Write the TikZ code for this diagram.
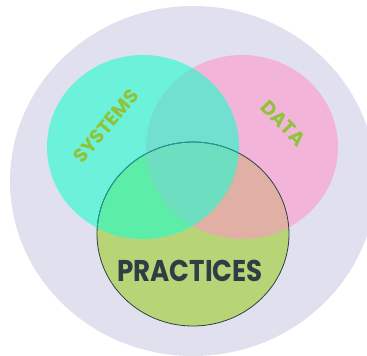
\documentclass[tikz,border=0pt]{standalone}
\usepackage{fontspec}
\newfontfamily\vennfont{Poppins}
\definecolor{lavender}{HTML}{E1E0EF}
\definecolor{sysfill}{HTML}{6CF2DA}
\definecolor{datfill}{HTML}{F2B5D9}
\definecolor{prafill}{HTML}{B7D477}
\definecolor{sdfill}{HTML}{72E0D0}
\definecolor{spfill}{HTML}{5CEEA8}
\definecolor{dpfill}{HTML}{E0B0A4}
\definecolor{sdpfill}{HTML}{6EDEC0}
\definecolor{labelgreen}{HTML}{8FC43A}
\definecolor{labeldark}{HTML}{2F3D45}
\tikzset{
  sys/.style={insert path={(143,147) ellipse[x radius=96,y radius=92]}},
  dat/.style={insert path={(242,147) ellipse[x radius=96,y radius=92]}},
  pra/.style={insert path={(193,234) ellipse[x radius=96,y radius=92]}},
  setlabel/.style={font=\vennfont\bfseries\fontsize{19.5}{20}\selectfont,text=labelgreen,inner sep=0pt}
}
\begin{document}
\begin{tikzpicture}[x=1pt,y=-1pt]
  \useasboundingbox (0,0) rectangle (367,356);
  %\draw[help lines,step=20] (0,0) grid (367,356);
  \begin{scope}
    \clip (0,0) rectangle (367,356);
    \fill[lavender] (193,181) ellipse[x radius=183,y radius=175];
  \end{scope}
  % the three sets
  \fill[datfill,dat];
  \fill[prafill,pra];
  \fill[sysfill,sys];
  % overlaps
  \begin{scope}\clip[sys]; \fill[sdfill,dat]; \end{scope}
  \begin{scope}\clip[sys]; \fill[spfill,pra]; \end{scope}
  \begin{scope}\clip[dat]; \fill[dpfill,pra]; \end{scope}
  \begin{scope}\clip[sys]; \clip[dat]; \fill[sdpfill,pra]; \end{scope}
  \draw[labeldark,line width=0.8pt,pra];
  \begin{scope}\clip[sys]; \draw[teal!70!sysfill,line width=0.8pt,pra]; \end{scope}
  % labels
  \node[setlabel,rotate=50] (systems) at (106,126) {SYSTEMS};
  \node[setlabel,rotate=-46] (data) at (283,123) {DATA};
  \node[setlabel,text=labeldark,xscale=0.87,font=\vennfont\bfseries\fontsize{30}{30}\selectfont] (practices) at (190,271) {PRACTICES};
\end{tikzpicture}
\end{document}
